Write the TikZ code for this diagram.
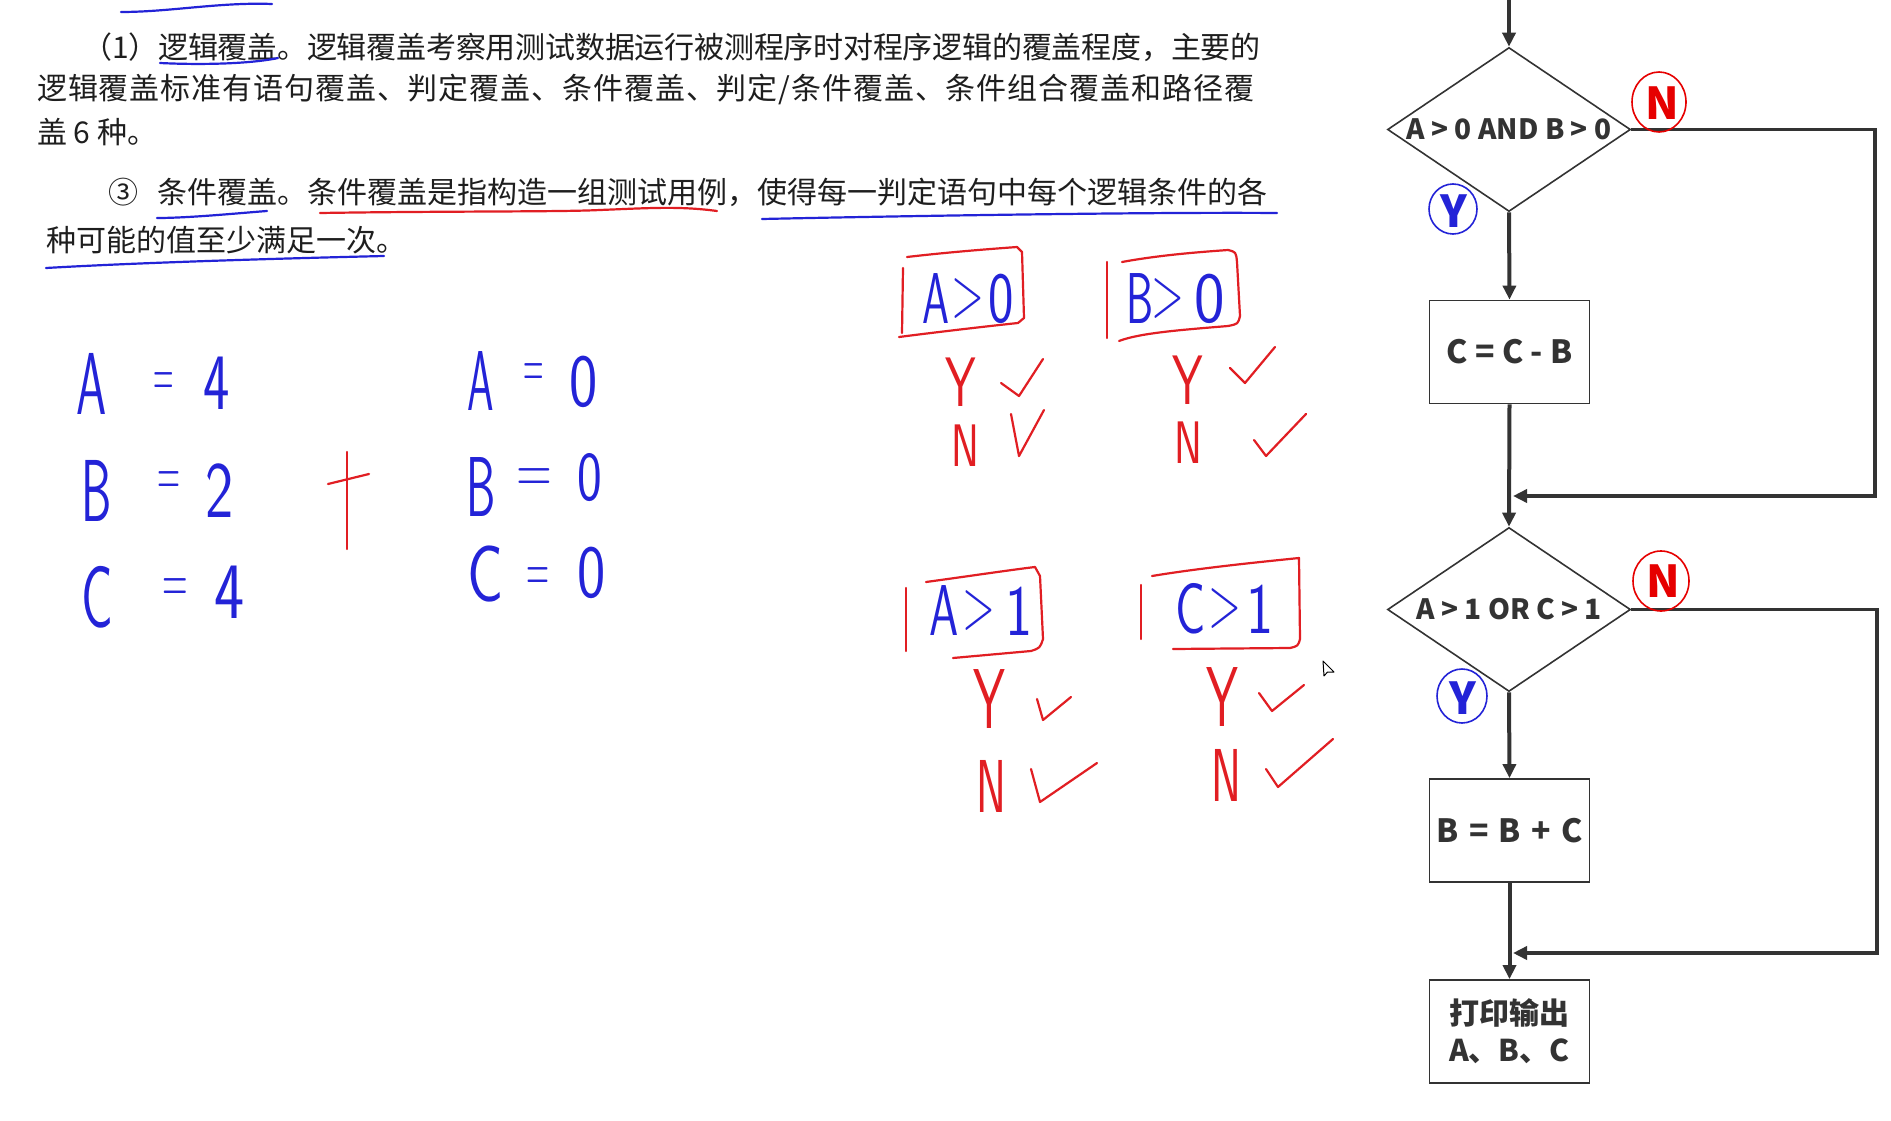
\documentclass[tikz,border=0pt]{standalone}
\usepackage{fontspec}
\usepackage{graphicx}
\usetikzlibrary{shapes.geometric,arrows.meta}
\newfontfamily\cjk{Noto Sans CJK SC}
\definecolor{hblue}{RGB}{35,35,215}
\definecolor{hred}{RGB}{225,30,35}
\definecolor{fred}{RGB}{230,0,0}
\definecolor{fc}{RGB}{51,51,51}
\definecolor{txt}{RGB}{30,30,30}
\newcommand\hwf[1]{\fontsize{#1}{#1}\selectfont\sffamily}
\newcommand\sq[2][0.6]{\scalebox{#1}[1]{#2}}
\tikzset{
  body/.style={anchor=west, inner sep=0pt, text=txt, font=\cjk\fontsize{30}{30}\selectfont},
  hb/.style={inner sep=0pt, text=hblue},
  hr/.style={inner sep=0pt, text=hred},
  hline/.style={line width=2.2pt, line cap=round, line join=round},
  fbox/.style={draw=fc, line width=1.8pt, minimum width=160pt, minimum height=103pt, inner sep=0pt, text=fc, font=\cjk\bfseries\fontsize{32}{37}\selectfont, align=center},
  fdia/.style={diamond, draw=fc, line width=1.6pt, aspect=1.5, minimum width=243pt, minimum height=164pt, inner sep=0pt},
  ftxt/.style={inner sep=0pt, text=fc, font=\cjk\bfseries\fontsize{28}{34}\selectfont},
  arr/.style={draw=fc, line width=4pt, -{Triangle[length=14pt,width=13pt]}},
  loopline/.style={draw=fc, line width=3.5pt, -{Triangle[length=14pt,width=13pt]}},
  ybig/.style={inner sep=0pt, font=\cjk\bfseries\fontsize{44}{44}\selectfont},
}
\begin{document}
\begin{tikzpicture}[x=1pt,y=-1pt]
\fill[white] (0,0) rectangle (1891,1121);
\useasboundingbox (0,0) rectangle (1891,1121);

% ---- printed text ----
\node[body] (p1) at (82,47) {\addfontfeature{LetterSpace=-0.7}（1）逻辑覆盖。逻辑覆盖考察用测试数据运行被测程序时对程序逻辑的覆盖程度，主要的};
\node[body] (p2) at (37,89.5) {\addfontfeature{LetterSpace=3}逻辑覆盖标准有语句覆盖、判定覆盖、条件覆盖、判定/条件覆盖、条件组合覆盖和路径覆};
\node[body] (p3) at (37,132) {盖 6 种。};
\node[body] (p4) at (108,192) {③\hspace{19pt}条件覆盖。条件覆盖是指构造一组测试用例，使得每一判定语句中每个逻辑条件的各};
\node[body] (p5) at (46,240) {种可能的值至少满足一次。};

% ---- underlines ----
\draw[hline, draw=hblue] (121,12) .. controls (170,12) and (220,2) .. (272,4);
\draw[hline, draw=hblue] (160,63) .. controls (200,65) and (250,64) .. (278,58);
\draw[hline, draw=hblue] (157,218) .. controls (190,218) and (240,213) .. (267,211);
\draw[hline, draw=hred] (320,213) .. controls (450,211) and (560,212) .. (600,210) .. controls (650,208) and (680,206) .. (717,211);
\draw[hline, draw=hblue] (762,219) .. controls (900,216) and (1150,212) .. (1277,213);
\draw[hline, draw=hblue] (46,268) .. controls (150,262) and (300,258) .. (384,256);

% ---- left handwritten values ----
\node[hb, font=\hwf{88}] (lA) at (92,384) {\sq[0.55]{A}};
\node[hb, font=\hwf{70}] (lEa) at (164,385) {\sq[0.4]{=}};
\node[hb, font=\hwf{80}] (l4a) at (217,383) {\sq[0.7]{4}};
\node[hb, font=\hwf{88}] (lB) at (97,491) {\sq[0.55]{B}};
\node[hb, font=\hwf{70}] (lEb) at (169,484) {\sq[0.45]{=}};
\node[hb, font=\hwf{80}] (l2) at (220,491) {\sq[0.75]{2}};
\node[hb, font=\hwf{88}] (lC) at (97,597) {\sq[0.6]{C}};
\node[hb, font=\hwf{70}] (lEc) at (175,591) {\sq[0.5]{=}};
\node[hb, font=\hwf{80}] (l4c) at (230,592) {\sq[0.8]{4}};

\node[hb, font=\hwf{85}] (rA) at (481,381) {\sq[0.5]{A}};
\node[hb, font=\hwf{70}] (rEa) at (534,376) {\sq[0.4]{=}};
\node[hb, font=\hwf{75}] (r0a) at (584,382) {\sq[0.8]{0}};
\node[hb, font=\hwf{85}] (rB) at (481,487) {\sq[0.55]{B}};
\node[hb, font=\hwf{70}] (rEb) at (534,481) {\sq[0.7]{=}};
\node[hb, font=\hwf{70}] (r0b) at (590,478) {\sq[0.75]{0}};
\node[hb, font=\hwf{80}] (rC) at (486,574) {\sq[0.75]{C}};
\node[hb, font=\hwf{70}] (rEc) at (538,580) {\sq[0.45]{=}};
\node[hb, font=\hwf{75}] (r0c) at (592,573) {\sq[0.8]{0}};

\draw[hline, draw=hred] (347,452) -- (347,549);
\draw[hline, draw=hred] (328,484) -- (369,474);

% ---- condition boxes ----
\node[hb, font=\hwf{72}] (bA0) at (936,299) {\sq[0.6]{A}};
\node[hb, font=\hwf{72}] (bg0) at (968,299) {\sq[0.6]{>}};
\node[hb, font=\hwf{72}] (b00) at (1001,299) {\sq[0.75]{0}};
\node[hb, font=\hwf{72}] (bB0) at (1140,299) {\sq[0.6]{B}};
\node[hb, font=\hwf{72}] (bg1) at (1168,299) {\sq[0.6]{>}};
\node[hb, font=\hwf{72}] (b01) at (1210,299) {\sq[0.9]{0}};
\node[hb, font=\hwf{72}] (bA1) at (944,611) {\sq[0.65]{A}};
\node[hb, font=\hwf{72}] (bg2) at (979,611) {\sq[0.6]{>}};
\node[hb, font=\hwf{72}] (b1a) at (1019,611) {\sq[0.8]{1}};
\node[hb, font=\hwf{72}] (bC1) at (1191,609) {\sq[0.7]{C}};
\node[hb, font=\hwf{72}] (bg3) at (1225,609) {\sq[0.6]{>}};
\node[hb, font=\hwf{72}] (b1b) at (1260,609) {\sq[0.8]{1}};

\draw[hline, draw=hred] (903,268) -- (902,333);
\draw[hline, draw=hred] (907,257) .. controls (950,252) and (990,249) .. (1017,247) -- (1022,252) -- (1024,318) -- (1018,323) .. controls (980,327) and (930,333) .. (899,337);
\draw[hline, draw=hred] (1107,262) -- (1107,338);
\draw[hline, draw=hred] (1122,262) .. controls (1160,255) and (1200,252) .. (1228,250) .. controls (1236,252) .. (1237,262) -- (1240,316) .. controls (1238,324) .. (1228,326) .. controls (1180,330) and (1140,333) .. (1119,341);
\draw[hline, draw=hred] (906,588) -- (906,651);
\draw[hline, draw=hred] (926,582) .. controls (970,576) and (1010,570) .. (1035,567) -- (1040,576) -- (1043,639) .. controls (1040,648) .. (1031,651) -- (953,658);
\draw[hline, draw=hred] (1141,585) -- (1141,639);
\draw[hline, draw=hred] (1152,576) .. controls (1200,568) and (1260,562) .. (1299,558) -- (1300,639) .. controls (1298,646) .. (1290,648) -- (1173,649);

% ---- Y / N and checks ----
\node[hr, font=\hwf{70}] (y1) at (961,382) {\sq[0.7]{Y}};
\node[hr, font=\hwf{60}] (n1) at (965,446) {\sq[0.7]{N}};
\node[hr, font=\hwf{70}] (y2) at (1188,380) {\sq[0.7]{Y}};
\node[hr, font=\hwf{60}] (n2) at (1188,443) {\sq[0.7]{N}};
\node[hr, font=\hwf{85}] (y3) at (989,699) {\sq[0.6]{Y}};
\node[hr, font=\hwf{75}] (n3) at (991,786) {\sq[0.6]{N}};
\node[hr, font=\hwf{85}] (y4) at (1222,697) {\sq[0.6]{Y}};
\node[hr, font=\hwf{75}] (n4) at (1226,775) {\sq[0.6]{N}};

\draw[hline, draw=hred] (1001,383) -- (1019,396) -- (1043,359);
\draw[hline, draw=hred] (1011,414) -- (1019,456) -- (1044,410);
\draw[hline, draw=hred] (1230,368) -- (1245,383) -- (1275,347);
\draw[hline, draw=hred] (1254,440) -- (1266,456) -- (1306,414);
\draw[hline, draw=hred] (1037,699) -- (1043,720) -- (1071,697);
\draw[hline, draw=hred] (1031,769) -- (1040,802) -- (1097,763);
\draw[hline, draw=hred] (1259,693) -- (1272,711) -- (1304,685);
\draw[hline, draw=hred] (1266,769) -- (1278,787) -- (1333,739);

% cursor
\draw[line width=1pt, fill=white, line join=round] (1323,661) -- (1324,676) -- (1327.5,672) -- (1334,672) -- cycle;

% ---- flowchart ----
\coordinate (top) at (1509,0);
\node[fdia] (d1) at (1509,129.5) {};
\node[ftxt] (t1) at (d1) {A > 0 AND B > 0};
\node[fbox] (b1) at (1509.5,352) {C = C - B};
\node[fdia] (d2) at (1509,609.5) {};
\node[ftxt] (t2) at (d2) {A > 1 OR C > 1};
\node[fbox] (b2) at (1509.5,830.5) {B\hspace{3pt} = \hspace{3pt}B\hspace{3pt} + \hspace{3pt}C};
\node[fbox, font=\cjk\bfseries\fontsize{30}{37}\selectfont] (b3) at (1509.5,1031.5) {打印输出\\A、B、C};
\coordinate (r1) at (1875,496);
\coordinate (j1) at (1513,496);
\coordinate (r2) at (1877,953);
\coordinate (j2) at (1513,953);
\draw[arr] (top) -- (d1.north);
\draw[arr] (d1.south) -- (b1.north);
\draw[arr] (b1.south) -- (d2.north);
\draw[arr] (d2.south) -- (b2.north);
\draw[arr] (b2.south) -- (b3.north);
\draw[loopline] (d1.east) -| (r1) -- (j1);
\draw[loopline] (d2.east) -| (r2) -- (j2);

\node[ybig, text=fred] (fn1) at (1662,103) {N};
\draw[line width=1.6pt, draw=fred] (1659,102) ellipse (27pt and 30pt);
\node[ybig, text=hblue] (fy1) at (1454,211) {Y};
\draw[line width=1.6pt, draw=hblue] (1453,209) ellipse (24pt and 25pt);
\node[ybig, text=fred] (fn2) at (1663,581) {N};
\draw[line width=1.6pt, draw=fred] (1661,581) ellipse (28pt and 30pt);
\node[ybig, text=hblue] (fy2) at (1463,698) {Y};
\draw[line width=1.6pt, draw=hblue] (1462,696) ellipse (25pt and 27pt);
\end{tikzpicture}
\end{document}
